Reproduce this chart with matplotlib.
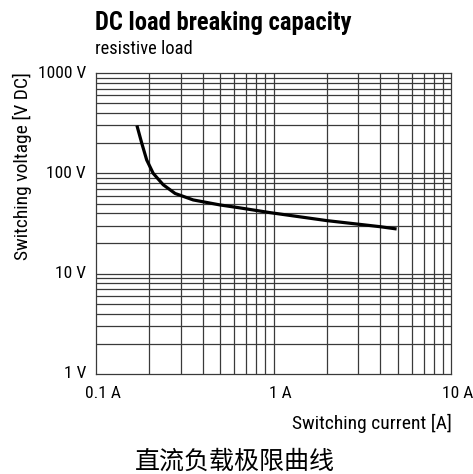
import matplotlib
matplotlib.use("Agg")
import matplotlib.pyplot as plt
import matplotlib.transforms as mtransforms

# Data
current_A = [0.17, 0.181, 0.193, 0.210, 0.239, 0.279, 0.353, 0.50, 0.634, 0.955, 1.995, 3.98, 4.94]
voltage_V = [300, 200, 136, 100, 77, 63, 54.3, 48.4, 45.5, 40.6, 33.8, 29.4, 27.9]

x_ticks = [0.1, 1, 10]
x_tick_labels = ["0.1 A", "1 A", "10 A"]
y_ticks = [1, 10, 100, 1000]
y_tick_labels = ["1 V", "10 V", "100 V", "1000 V"]

title = "DC load breaking capacity"
subtitle = "resistive load"
xlabel = "Switching current [A]"
ylabel = "Switching voltage [V DC]"
caption = "直流负载极限曲线"

W, H = 473, 474
fig = plt.figure(figsize=(W / 100, H / 100), dpi=100)
narrow = ["Roboto Condensed", "DejaVu Sans"]

left, right, top, bottom = 96, 451, 73, 374
ax = fig.add_axes([left / W, 1 - bottom / H, (right - left) / W, (bottom - top) / H])
ax.set_xscale("log")
ax.set_yscale("log")
ax.set_xlim(0.1, 10)
ax.set_ylim(1, 1000)

gridc = "#3a3a3a"
for d in [0.1, 1]:
    for m in range(1, 10):
        v = d * m
        if 0.1 < v < 10:
            ax.axvline(v, color=gridc, lw=0.9, zorder=1)
for d in [1, 10, 100]:
    for m in range(1, 10):
        v = d * m
        if 1 < v < 1000:
            ax.axhline(v, color=gridc, lw=0.9, zorder=1)
for s in ax.spines.values():
    s.set_color(gridc)
    s.set_linewidth(0.9)

ax.plot(current_A, voltage_V, color="black", lw=2.3, solid_capstyle="butt", zorder=3)

ax.set_xticks([])
ax.set_yticks([])
ax.minorticks_off()

# Y tick labels
ytrans = mtransforms.blended_transform_factory(ax.transAxes, ax.transData)
for v, lab in zip(y_ticks, y_tick_labels):
    ax.text(-10 / (right - left), v, lab, transform=ytrans, ha="right", va="center",
            fontsize=12.5, family=narrow)
# X tick labels
xtrans = mtransforms.blended_transform_factory(ax.transData, ax.transAxes)
offs = mtransforms.ScaledTranslation(7 / 100, 0, fig.dpi_scale_trans)
for v, lab in zip(x_ticks, x_tick_labels):
    ax.text(v, -19 / (bottom - top), lab, transform=xtrans + offs, ha="center", va="center",
            fontsize=12.5, family=narrow)

fig.text(452 / W, 1 - 423 / H, xlabel, ha="right", va="center", fontsize=14, family=narrow)
fig.text(22 / W, 1 - 72 / H, ylabel, ha="center", va="top", rotation=90, fontsize=14, family=narrow)
fig.text(95 / W, 1 - 23 / H, title, ha="left", va="center", fontsize=17.7, fontweight="bold", family=narrow)
fig.text(95 / W, 1 - 49 / H, subtitle, ha="left", va="center", fontsize=13.3, family=narrow)
fig.text(235 / W, 1 - 462 / H, caption, ha="center", va="center", fontsize=18,
         family=["Noto Sans CJK SC", "DejaVu Sans"])

fig.savefig("out.png", dpi=100)
